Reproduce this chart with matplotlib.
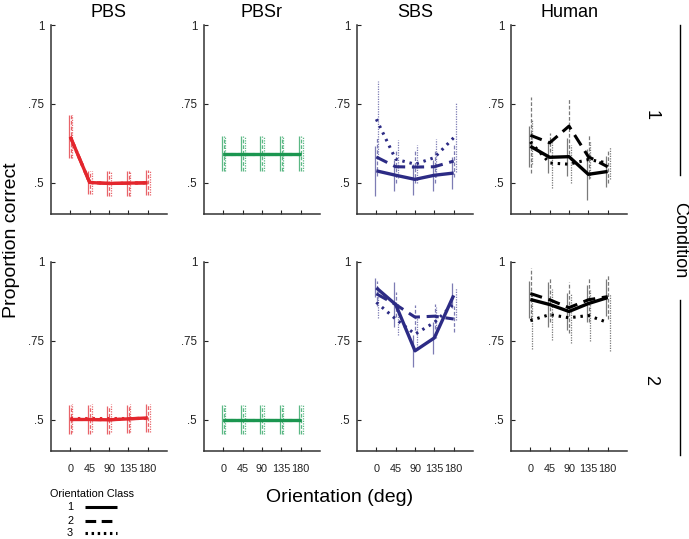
import matplotlib.pyplot as plt
from matplotlib.lines import Line2D

plt.rcParams['font.family'] = ['Liberation Sans', 'DejaVu Sans']

W, H = 689, 539

orientations = [0, 45, 90, 135, 180]
models = ["PBS", "PBSr", "SBS", "Human"]
line_colors = ["#e3262d", "#1b9650", "#2c2b85", "#000000"]
err_colors = ["#e8646a", "#5cb885", "#7d7cb4", "#7a7a7a"]

# mean proportion correct, one row per orientation class (1, 2, 3)
pbs_c1 = [[0.645, 0.500, 0.497, 0.498, 0.499],
          [0.645, 0.500, 0.497, 0.498, 0.499],
          [0.645, 0.500, 0.497, 0.498, 0.499]]
pbs_c2 = [[0.500, 0.500, 0.499, 0.502, 0.505],
          [0.500, 0.500, 0.499, 0.502, 0.505],
          [0.505, 0.505, 0.505, 0.505, 0.505]]
pbsr_c1 = [[0.592] * 5, [0.592] * 5, [0.592] * 5]
pbsr_c2 = [[0.500] * 5, [0.500] * 5, [0.500] * 5]
sbs_c1 = [[0.537, 0.523, 0.510, 0.523, 0.530],
          [0.581, 0.550, 0.549, 0.550, 0.568],
          [0.701, 0.574, 0.558, 0.579, 0.642]]
sbs_c2 = [[0.918, 0.865, 0.718, 0.759, 0.894],
          [0.899, 0.865, 0.825, 0.828, 0.819],
          [0.872, 0.819, 0.771, 0.808, 0.867]]
human_c1 = [[0.615, 0.580, 0.582, 0.526, 0.535],
            [0.650, 0.626, 0.679, 0.582, 0.550],
            [0.629, 0.562, 0.558, 0.573, 0.562]]
human_c2 = [[0.881, 0.865, 0.843, 0.868, 0.887],
            [0.900, 0.880, 0.855, 0.880, 0.890],
            [0.814, 0.833, 0.823, 0.830, 0.808]]

# error bar half-widths, same layout
pbs_c1_err = [[0.068, 0.036, 0.040, 0.040, 0.040]] * 3
pbs_c2_err = [[0.045, 0.045, 0.045, 0.045, 0.045]] * 3
pbsr_c1_err = [[0.057, 0.057, 0.057, 0.057, 0.057]] * 3
pbsr_c2_err = [[0.045, 0.045, 0.045, 0.045, 0.045]] * 3
sbs_c1_err = [[0.080, 0.050, 0.050, 0.050, 0.050],
              [0.060, 0.050, 0.050, 0.050, 0.050],
              [0.120, 0.060, 0.060, 0.060, 0.110]]
sbs_c2_err = [[0.030, 0.070, 0.050, 0.050, 0.040],
              [0.040, 0.040, 0.040, 0.040, 0.040],
              [0.050, 0.050, 0.050, 0.050, 0.050]]
human_c1_err = [[0.065, 0.050, 0.060, 0.080, 0.050],
                [0.120, 0.030, 0.090, 0.070, 0.050],
                [0.070, 0.080, 0.060, 0.060, 0.050]]
human_c2_err = [[0.060, 0.070, 0.060, 0.060, 0.060],
                [0.080, 0.070, 0.080, 0.070, 0.070],
                [0.090, 0.080, 0.080, 0.080, 0.090]]

means = [[pbs_c1, pbsr_c1, sbs_c1, human_c1],
         [pbs_c2, pbsr_c2, sbs_c2, human_c2]]
errs = [[pbs_c1_err, pbsr_c1_err, sbs_c1_err, human_c1_err],
        [pbs_c2_err, pbsr_c2_err, sbs_c2_err, human_c2_err]]

styles = ["-", (0, (4, 2.2)), (0, (0.8, 1.6))]
err_styles = ["-", (0, (3, 1.5)), (0, (1, 1))]
offsets = [-4, 1, 5]

fig = plt.figure(figsize=(W / 100, H / 100), dpi=100)

col_left = [51, 204, 357, 511]
row_top = [25, 262]
ax_w, ax_h = 116, 189

for r in range(2):
    for c in range(4):
        l = col_left[c] / W
        b = 1 - (row_top[r] + ax_h) / H
        ax = fig.add_axes([l, b, ax_w / W, ax_h / H])
        for k in [2, 1, 0]:
            m = means[r][c][k]
            e = errs[r][c][k]
            xs = [o + offsets[k] for o in orientations]
            ax.vlines(xs, [a - d for a, d in zip(m, e)], [a + d for a, d in zip(m, e)],
                      colors=err_colors[c], linestyles=err_styles[k], lw=0.9)
        for k in [2, 1, 0]:
            m = means[r][c][k]
            ax.plot(orientations, m, color=line_colors[c], ls=styles[k],
                    lw=2.2 if k else 2.4, solid_capstyle='butt')
        ax.set_xlim(-45, 225)
        ax.set_ylim(0.4, 1.0)
        ax.set_yticks([0.5, 0.75, 1.0])
        ax.set_yticklabels([".5", ".75", "1"])
        ax.set_xticks(orientations)
        if r == 1:
            ax.set_xticklabels([str(o) for o in orientations])
        else:
            ax.set_xticklabels([])
        ax.tick_params(direction='in', length=3, width=0.8, labelsize=7.8,
                       colors='#222222')
        ax.tick_params(axis='x', pad=9)
        ax.tick_params(axis='y', pad=5, labelsize=8.3)
        for s in ['top', 'right']:
            ax.spines[s].set_visible(False)
        for s in ['left', 'bottom']:
            ax.spines[s].set_linewidth(1.1)
            ax.spines[s].set_color('#333333')
        if r == 0:
            ax.set_title(models[c], fontsize=13, pad=6)


def fx(x):
    return x / W


def fy(y):
    return 1 - y / H


fig.text(fx(12), fy(240), "Proportion correct", rotation=90, fontsize=14,
         ha='center', va='center')
fig.text(fx(340), fy(497), "Orientation (deg)", fontsize=14, ha='center', va='center')

# condition annotation on the right
fig.text(fx(651), fy(115), "1", rotation=270, fontsize=13, ha='center', va='center')
fig.text(fx(651), fy(380), "2", rotation=270, fontsize=13, ha='center', va='center')
fig.text(fx(680), fy(240), "Condition", rotation=270, fontsize=13, ha='center', va='center')
fig.add_artist(Line2D([fx(680), fx(680)], [fy(25), fy(175)], color='black', lw=1))
fig.add_artist(Line2D([fx(680), fx(680)], [fy(300), fy(455)], color='black', lw=1))

# legend
fig.text(fx(50), fy(494), "Orientation Class", fontsize=7.8, ha='left', va='center')
legend_styles = ["-", (0, (3.5, 1.8)), (0, (0.8, 1.2))]
for k, yy in enumerate([507, 521, 533]):
    fig.text(fx(70), fy(yy), str(k + 1), fontsize=7.8, ha='center', va='center')
    fig.add_artist(Line2D([fx(85), fx(117)], [fy(yy), fy(yy)], color='black',
                          lw=2.2, ls=legend_styles[k], solid_capstyle='butt'))

fig.savefig("out.png", dpi=100)
